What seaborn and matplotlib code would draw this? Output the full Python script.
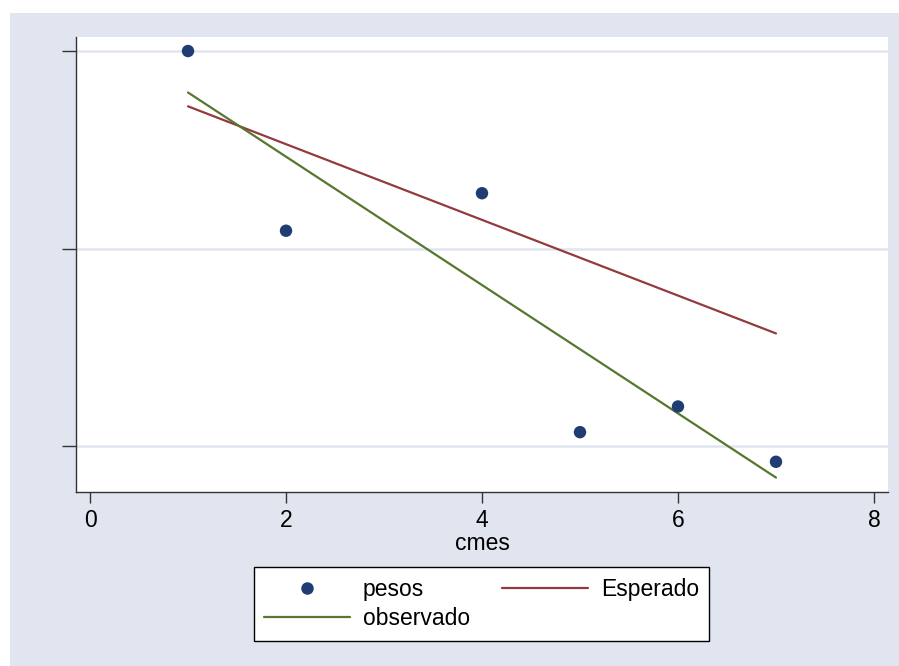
import matplotlib
matplotlib.use("Agg")
import matplotlib.pyplot as plt
import seaborn as sns
from matplotlib.patches import Rectangle
from matplotlib.lines import Line2D

# datos (eje y sin etiquetas -> escala relativa: lineas guia en 1, 2, 3)
cmes = [1, 2, 4, 5, 6, 7]
pesos = [3.00, 2.09, 2.28, 1.07, 1.20, 0.92]
linea_x = [1, 7]
esperado = [2.72, 1.57]
observado = [2.79, 0.84]
xticks = [0, 2, 4, 6, 8]
yticks = [1, 2, 3]

azul = '#1f3d73'
rojo = '#943a3f'
verde = '#57762f'
fondo = '#e0e5f0'

sns.set_theme(style="white")
plt.rcParams['font.family'] = ['Liberation Sans', 'DejaVu Sans']
plt.rcParams['text.color'] = 'black'
plt.rcParams['axes.labelcolor'] = 'black'
plt.rcParams['xtick.color'] = 'black'

fig = plt.figure(figsize=(8.99, 6.66), dpi=100, facecolor='white')
# marco gris estilo Stata
fondo_rect = Rectangle((10 / 899, 0), 889 / 899, 653 / 666, transform=fig.transFigure,
                       facecolor=fondo, edgecolor='none', zorder=-10)
fig.add_artist(fondo_rect)
ax = fig.add_axes([76 / 899, (666 - 492) / 666, (888 - 76) / 899, (492 - 37) / 666])
ax.set_facecolor('white')

sns.scatterplot(x=cmes, y=pesos, color=azul, s=80, edgecolor='none', ax=ax, zorder=3)
sns.lineplot(x=linea_x, y=esperado, color=rojo, linewidth=1.6, ax=ax, zorder=2)
sns.lineplot(x=linea_x, y=observado, color=verde, linewidth=1.6, ax=ax, zorder=2)

ax.set_xlim(-0.143, 8.143)
ax.set_ylim(0.767, 3.071)
ax.set_xticks(xticks)
ax.set_yticks(yticks)
ax.set_yticklabels([])
ax.yaxis.grid(True, color=fondo, linewidth=1.8)
ax.set_axisbelow(True)
for lado in ['top', 'right']:
    ax.spines[lado].set_visible(False)
for lado in ['left', 'bottom']:
    ax.spines[lado].set_color('#333333')
    ax.spines[lado].set_linewidth(1.0)
ax.tick_params(axis='x', direction='out', length=8, width=1, color='#333333',
               labelsize=16.5, labelcolor='black', pad=4, bottom=True)
ax.tick_params(axis='y', direction='out', length=10, width=1, color='#333333', left=True)
ax.set_xlabel('cmes', fontsize=16.5, labelpad=0, color='black')
ax.set_ylabel('')

handles = [
    Line2D([], [], linestyle='none', marker='o', markersize=9, color=azul, markeredgecolor='none'),
    Line2D([], [], color=verde, linewidth=1.6),
    Line2D([], [], color=rojo, linewidth=1.6),
]
labels = ['pesos', 'observado', 'Esperado']
leg = fig.legend(handles, labels, ncol=2, loc='center', bbox_to_anchor=(481.5 / 899, (666 - 604) / 666),
                 fontsize=16.5, frameon=True, fancybox=False, framealpha=1, handlelength=3.75,
                 columnspacing=1.4, handletextpad=0.57, labelspacing=0.3, borderpad=0.45)
leg.get_frame().set_edgecolor('black')
leg.get_frame().set_linewidth(1.0)
leg.get_frame().set_facecolor('white')
for t in leg.get_texts():
    t.set_color('black')

fig.savefig('out.png', dpi=100, facecolor='white')
